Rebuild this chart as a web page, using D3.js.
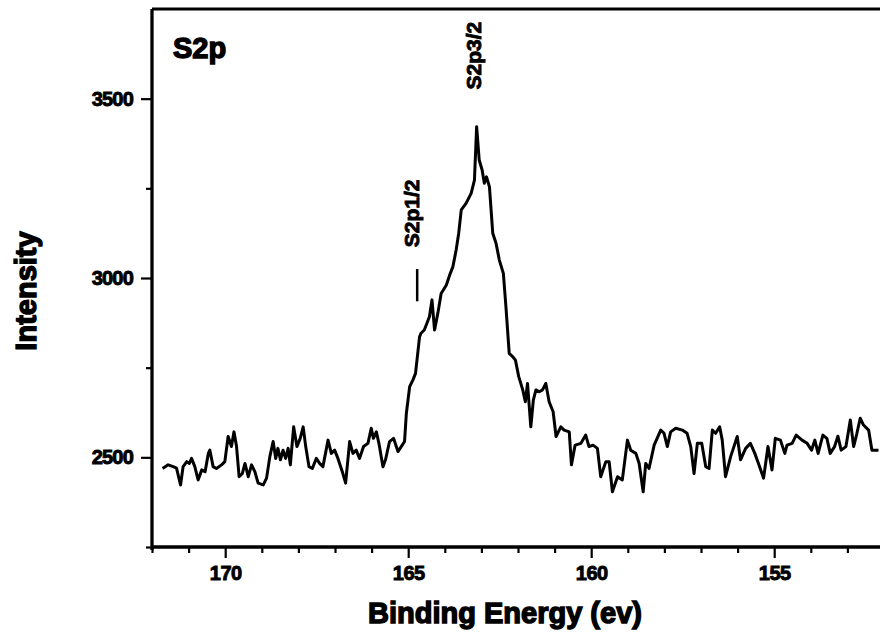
<!DOCTYPE html>
<html><head><meta charset="utf-8">
<script src="https://cdn.jsdelivr.net/npm/d3@7"></script>
<style>
html,body{margin:0;padding:0;background:#fff;}
text{font-family:"Liberation Sans",Arial,sans-serif;font-weight:bold;fill:#000;}
</style></head>
<body>
<svg id="chart" width="880" height="636"></svg>
<script>
const energy = [171.71,171.56,171.42,171.33,171.22,171.15,171.05,170.98,170.92,170.83,170.74,170.64,170.55,170.46,170.42,170.33,170.24,170.10,170.01,169.92,169.83,169.76,169.69,169.62,169.53,169.46,169.37,169.28,169.19,169.10,168.96,168.87,168.78,168.69,168.62,168.56,168.49,168.42,168.35,168.28,168.22,168.13,168.04,167.95,167.87,167.80,167.71,167.62,167.51,167.42,167.33,167.19,167.10,167.01,166.92,166.80,166.71,166.60,166.51,166.42,166.33,166.22,166.10,166.01,165.95,165.87,165.80,165.69,165.62,165.51,165.40,165.28,165.19,165.10,165.05,164.96,164.87,164.80,164.69,164.65,164.56,164.42,164.35,164.28,164.19,164.10,163.96,163.85,163.78,163.69,163.62,163.55,163.42,163.28,163.19,163.13,163.06,162.98,162.92,162.86,162.78,162.69,162.60,162.51,162.40,162.33,162.24,162.15,162.07,161.98,161.87,161.80,161.74,161.65,161.58,161.51,161.42,161.33,161.24,161.15,161.04,160.96,160.83,160.74,160.60,160.54,160.44,160.28,160.15,160.06,159.95,159.83,159.74,159.60,159.51,159.42,159.28,159.15,159.01,158.92,158.78,158.69,158.58,158.51,158.42,158.28,158.10,158.01,157.92,157.83,157.69,157.51,157.38,157.28,157.19,157.10,156.98,156.87,156.78,156.69,156.60,156.49,156.42,156.33,156.19,156.01,155.92,155.78,155.65,155.53,155.43,155.29,155.17,155.06,154.97,154.83,154.71,154.65,154.51,154.40,154.24,154.10,153.98,153.89,153.80,153.67,153.56,153.47,153.35,153.26,153.17,153.04,152.92,152.83,152.74,152.65,152.56,152.42,152.33,152.15];
const intensity = [2469,2479,2474,2470,2423,2474,2488,2483,2497,2474,2437,2465,2460,2511,2520,2474,2469,2479,2488,2558,2530,2571,2530,2446,2455,2483,2446,2479,2460,2428,2423,2442,2502,2544,2497,2525,2493,2520,2497,2525,2479,2585,2530,2553,2585,2530,2474,2469,2497,2483,2474,2548,2511,2520,2497,2460,2428,2544,2511,2520,2497,2530,2539,2581,2553,2571,2539,2474,2493,2544,2553,2516,2530,2544,2623,2697,2716,2734,2836,2846,2855,2892,2939,2855,2902,2957,2980,3013,3031,3078,3125,3190,3208,3236,3273,3422,3329,3301,3264,3282,3254,3125,3097,3050,3013,2920,2790,2781,2771,2725,2688,2655,2706,2585,2660,2688,2683,2688,2706,2655,2627,2558,2585,2576,2571,2479,2534,2539,2562,2530,2534,2525,2446,2488,2488,2404,2446,2437,2548,2520,2511,2483,2404,2483,2469,2534,2576,2567,2530,2571,2581,2576,2567,2530,2455,2539,2539,2474,2469,2576,2567,2585,2548,2446,2502,2558,2493,2525,2539,2511,2483,2442,2530,2465,2553,2548,2511,2534,2539,2562,2548,2539,2520,2548,2511,2562,2553,2511,2530,2559,2520,2530,2604,2530,2567,2609,2590,2576,2520,2520];
const xMajorTicks = [170,165,160,155];
const xMinorTicks = [172,171,169,168,167,166,164,163,162,161,159,158,157,156,154,153];
const yMajorTicks = [2500,3000,3500];
const yMinorTicks = [2250,2750,3250];
const panelLabel = "S2p";
const xTitle = "Binding Energy (ev)";
const yTitle = "Intensity";
const peakLabels = [{text:"S2p3/2", e:163.0, v:3620}, {text:"S2p1/2", e:164.7, v:3180}];

const svg = d3.select("#chart");
const x = d3.scaleLinear().domain([172,152]).range([152,884]);
const y = d3.scaleLinear().domain([2250,3750]).range([547,9]);

const data = d3.zip(energy, intensity);

// top frame line
svg.append("line").attr("x1",x(172)).attr("x2",880).attr("y1",y(3750)).attr("y2",y(3750))
  .attr("stroke","#000").attr("stroke-width",2.8);

// x axis
const gx = svg.append("g").attr("transform",`translate(0,${y(2250)})`);
gx.call(d3.axisBottom(x).tickValues(xMajorTicks).tickSize(11).tickPadding(8).tickFormat(d3.format("d")));
gx.append("g").call(d3.axisBottom(x).tickValues(xMinorTicks).tickSize(6).tickFormat(""));
gx.selectAll(".domain").attr("stroke-width",2.8).attr("d",`M${x(172)},0H884`);
gx.selectAll(".tick line").attr("stroke-width",2.2);
gx.selectAll(".tick text").style("font-size","20px").attr("stroke","#000").attr("stroke-width",0.9).attr("letter-spacing","-0.5");

// y axis
const gy = svg.append("g").attr("transform",`translate(${x(172)},0)`);
gy.call(d3.axisLeft(y).tickValues(yMajorTicks).tickSize(11).tickPadding(8).tickFormat(d3.format("d")));
gy.append("g").call(d3.axisLeft(y).tickValues(yMinorTicks).tickSize(6).tickFormat(""));
gy.selectAll(".domain").attr("stroke-width",2.8).attr("d",`M0,${y(2250)+3}V${y(3750)}`);
gy.selectAll(".tick line").attr("stroke-width",2.2);
gy.selectAll(".tick text").style("font-size","20px").attr("stroke","#000").attr("stroke-width",0.9).attr("letter-spacing","-0.8");

// data line
svg.append("path").datum(data)
  .attr("fill","none").attr("stroke","#000").attr("stroke-width",3)
  .attr("stroke-linejoin","round")
  .attr("d", d3.line().x(d=>x(d[0])).y(d=>y(d[1])));

// panel label
svg.append("text").attr("x",173).attr("y",58).style("font-size","29px")
  .attr("stroke","#000").attr("stroke-width",1.4).text(panelLabel);

// peak labels (rotated)
peakLabels.forEach(p=>{
  svg.append("text")
    .attr("transform",`translate(${x(p.e)},${y(p.v)}) rotate(-90)`)
    .attr("text-anchor","middle").style("font-size","21px")
    .attr("stroke","#000").attr("stroke-width",0.9).text(p.text);
});
// marker line for S2p1/2
svg.append("line").attr("x1",x(164.7)-2).attr("x2",x(164.7)-2)
  .attr("y1",y(2935)).attr("y2",y(3025)).attr("stroke","#000").attr("stroke-width",2.5);

// axis titles
svg.append("text").attr("x",505).attr("y",623).attr("text-anchor","middle")
  .style("font-size","29px").attr("stroke","#000").attr("stroke-width",1.4).text(xTitle);
svg.append("text").attr("transform","translate(36,291) rotate(-90)").attr("text-anchor","middle")
  .style("font-size","29px").attr("stroke","#000").attr("stroke-width",1.4).text(yTitle);
</script>
</body></html>
